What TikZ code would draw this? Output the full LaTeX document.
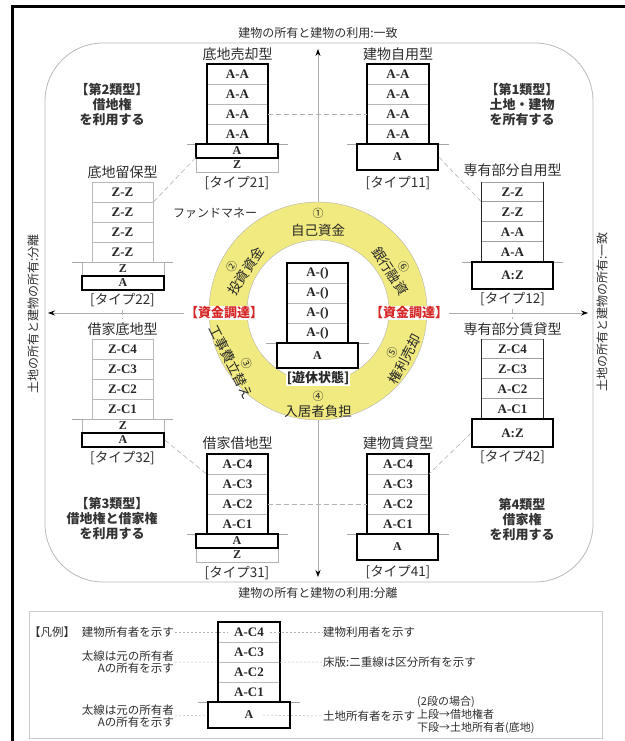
\documentclass[tikz,border=0pt]{standalone}
\usepackage{fontspec}
\setmainfont{Noto Sans CJK JP}
\newfontfamily\lat{Liberation Serif}
\usetikzlibrary{arrows.meta}
\definecolor{ringy}{RGB}{241,234,128}
\definecolor{fundred}{RGB}{214,38,38}
\definecolor{txt}{RGB}{45,45,45}
\tikzset{
  fl/.style={draw=gray!55, line width=0.5pt, minimum width=61pt, minimum height=20pt, inner sep=0pt,
    font=\lat\bfseries\fontsize{13}{13}\selectfont, text=black!85},
  fln/.style={fl, draw=none},
  own/.style={draw=black, line width=1.6pt},
  sideln/.style={draw=black!85, line width=1.4pt},
  dbl/.style={draw=gray!75, double=white, double distance=1.2pt, line width=0.6pt},
  bsA/.style={draw=black, line width=1.6pt, minimum width=82pt, inner sep=0pt,
    font=\lat\bfseries\fontsize{12}{12}\selectfont, text=black!85},
  bsZ/.style={draw=gray!60, line width=0.6pt, minimum width=82pt, inner sep=0pt,
    font=\lat\bfseries\fontsize{12}{12}\selectfont, text=black!85},
  gl/.style={draw=gray!70, line width=0.5pt},
  lab/.style={font=\fontsize{14}{14}\selectfont, text=txt},
  typ/.style={font=\fontsize{13.5}{14}\selectfont, text=txt},
  cat/.style={font=\bfseries\fontsize{13}{15}\selectfont, text=black!80, align=center},
  axl/.style={font=\fontsize{12}{12}\selectfont, text=txt},
  ax/.style={draw=gray!65, line width=0.7pt},
  tip/.tip={Stealth[length=7pt,width=5pt,color=black]},
  dc/.style={draw=gray!60, dash pattern=on 5pt off 3pt, line width=0.6pt},
  ld/.style={draw=gray!60, dash pattern=on 2pt off 2pt, line width=0.5pt},
  fund/.style={font=\bfseries\fontsize{13}{13}\selectfont, text=fundred, fill=white, inner sep=1pt},
  rt/.style={font=\fontsize{13.5}{13.5}\selectfont, text=black!85, inner sep=0pt},
  rn/.style={font=\fontsize{11}{11}\selectfont, text=black!85, inner sep=0pt},
  lg/.style={font=\fontsize{11.5}{12}\selectfont, text=txt, inner sep=1pt},
}
\begin{document}
\begin{tikzpicture}[x=1pt,y=-1pt]
\useasboundingbox (0,0) rectangle (624,741);
% outer frame
\draw[line width=3pt] (12,760) -- (12,7) -- (640,7);
% rounded region
\draw[gray!55, line width=0.8pt, rounded corners=58pt] (45,43) rectangle (593,582);

% ring
\node[circle, minimum size=218pt, inner sep=0pt] (ring) at (318,311) {};
\fill[ringy, even odd rule] (318,311) circle (109pt) (318,311) circle (71pt);
\draw[black!30, line width=0.4pt] (318,311) circle (109pt);
\draw[black!30, line width=0.4pt] (318,311) circle (71pt);

% axes labels and coordinates
\node[axl] (ttop) at (318,33) {建物の所有と建物の利用:一致};
\node[axl] (tbot) at (318,593) {建物の所有と建物の利用:分離};
\node[axl, rotate=90] (tleft) at (33,314) {土地の所有と建物の所有:分離};
\node[axl, rotate=90] (tright) at (602,312) {土地の所有と建物の所有:一致};
\coordinate (vt) at (318,49);
\coordinate (vb) at (318,577);
\coordinate (hl) at (48,313);
\coordinate (hr) at (588,313);
\node[fund] (fl) at (224,313) {【資金調達】};
\node[fund] (fr) at (409,313) {【資金調達】};
\draw[ax, -tip] (ring.north) -- (vt);
\draw[ax, -tip] (ring.south) -- (vb);
\draw[ax, -tip] (fl.west) -- (hl);
\draw[ax, -tip] (fr.east) -- (hr);

% ring texts
\node[rn] (n1) at (318,213) {①};
\node[rt] (r1) at (318,230) {自己資金};
\node[rn, rotate=57] (n2) at (232,267) {②};
\node[rt, rotate=57] (r2) at (246,271) {投資資金};
\node[rn, rotate=-63] (n3) at (247,363) {③};
\node[rt, rotate=-63] (r3) at (231,362) {工事費立替え};
\node[rn] (n4) at (318,396) {④};
\node[rt] (r4) at (318,411) {入居者負担};
\node[rn, rotate=62] (n5) at (392,353) {⑤};
\node[rt, rotate=62] (r5) at (405,359) {権利売却};
\node[rn, rotate=-57] (n6) at (404,267) {⑥};
\node[rt, rotate=-57] (r6) at (390,271) {銀行融資};
\node[font=\fontsize{12}{12}\selectfont, text=txt] (fm) at (215,213) {ファンドマネー};

% category labels
\node[cat] (k2) at (112,105) {【第2類型】\\借地権\\を利用する};
\node[cat] (k1) at (522,105) {【第1類型】\\土地・建物\\を所有する};
\node[cat] (k3) at (112,519) {【第3類型】\\借地権と借家権\\を利用する};
\node[cat] (k4) at (522,520) {第4類型\\借家権\\を利用する};

% ---- Building 21
\node[lab] (l21) at (237.5,54) {底地売却型};
\node[fl] (a1) at (237.5,74) {A-A};
\node[fl] (a2) at (237.5,94) {A-A};
\node[fl] (a3) at (237.5,114) {A-A};
\node[fl] (a4) at (237.5,134) {A-A};
\draw[own] (a1.north west) rectangle (a4.south east);
\draw[gl] ([xshift=-20pt]a4.south west) -- ([xshift=20pt]a4.south east);
\node[bsZ, minimum height=14pt] (a6) at (237,165) {Z};
\node[bsA, minimum height=14pt] (a5) at (237,151) {A};
\node[typ] (t21) at (237,183) {[タイプ21]};

% ---- Building 11
\node[lab] (l11) at (398,54) {建物自用型};
\node[fl] (d1) at (398,74) {A-A};
\node[fl] (d2) at (398,94) {A-A};
\node[fl] (d3) at (398,114) {A-A};
\node[fl] (d4) at (398,134) {A-A};
\draw[own] (d1.north west) rectangle (d4.south east);
\draw[gl] ([xshift=-20pt]d4.south west) -- ([xshift=20pt]d4.south east);
\node[bsA, minimum width=81pt, minimum height=26pt] (d5) at (397.5,157) {A};
\node[typ] (t11) at (398,183) {[タイプ11]};

% ---- Building 22
\node[lab] (l22) at (122.5,172) {底地留保型};
\node[fl] (b1) at (122.5,192) {Z-Z};
\node[fl] (b2) at (122.5,212) {Z-Z};
\node[fl] (b3) at (122.5,232) {Z-Z};
\node[fl] (b4) at (122.5,252) {Z-Z};
\draw[gl] ([xshift=-20pt]b4.south west) -- ([xshift=20pt]b4.south east);
\node[bsZ, minimum height=14pt] (b5) at (123,269) {Z};
\node[bsA, minimum height=14pt] (b6) at (123,283) {A};
\node[typ] (t22) at (122.5,300) {[タイプ22]};

% ---- Building 12
\node[lab] (l12) at (512.5,170) {専有部分自用型};
\node[fln] (c1) at (512.5,192) {Z-Z};
\node[fln] (c2) at (512.5,212) {Z-Z};
\node[fln] (c3) at (512.5,232) {A-A};
\node[fln] (c4) at (512.5,252) {A-A};
\draw[dbl] (c1.north west) -- (c1.north east);
\draw[dbl] (c1.south west) -- (c1.south east);
\draw[dbl] (c2.south west) -- (c2.south east);
\draw[dbl] (c3.south west) -- (c3.south east);
\draw[sideln] (c1.north west) -- (c4.south west);
\draw[sideln] (c1.north east) -- (c4.south east);
\draw[gl] ([xshift=-20pt]c4.south west) -- ([xshift=20pt]c4.south east);
\node[bsA, minimum width=81pt, minimum height=27pt, font=\lat\bfseries\fontsize{13}{13}\selectfont] (c5) at (512.5,275.5) {A:Z};
\node[typ] (t12) at (512.5,299) {[タイプ12]};

% ---- Building 32
\node[lab] (l32) at (122.5,329) {借家底地型};
\node[fl] (e1) at (122.5,349) {Z-C4};
\node[fl] (e2) at (122.5,369) {Z-C3};
\node[fl] (e3) at (122.5,389) {Z-C2};
\node[fl] (e4) at (122.5,409) {Z-C1};
\draw[gl] ([xshift=-20pt]e4.south west) -- ([xshift=20pt]e4.south east);
\node[bsZ, minimum height=14pt] (e5) at (123,426) {Z};
\node[bsA, minimum height=14pt] (e6) at (123,440) {A};
\node[typ] (t32) at (122.5,458) {[タイプ32]};

% ---- Building 42
\node[lab] (l42) at (512.5,329) {専有部分賃貸型};
\node[fln] (f1) at (512.5,349) {Z-C4};
\node[fln] (f2) at (512.5,369) {Z-C3};
\node[fln] (f3) at (512.5,389) {A-C2};
\node[fln] (f4) at (512.5,409) {A-C1};
\draw[dbl] (f1.north west) -- (f1.north east);
\draw[dbl] (f1.south west) -- (f1.south east);
\draw[dbl] (f2.south west) -- (f2.south east);
\draw[dbl] (f3.south west) -- (f3.south east);
\draw[sideln] (f1.north west) -- (f4.south west);
\draw[sideln] (f1.north east) -- (f4.south east);
\node[bsA, minimum width=81pt, minimum height=28pt, font=\lat\bfseries\fontsize{13}{13}\selectfont] (f5) at (512.5,433) {A:Z};
\node[typ] (t42) at (512.5,457) {[タイプ42]};

% ---- Building 31
\node[lab] (l31) at (237.5,443) {借家借地型};
\node[fl] (g1) at (237.5,464) {A-C4};
\node[fl] (g2) at (237.5,484) {A-C3};
\node[fl] (g3) at (237.5,504) {A-C2};
\node[fl] (g4) at (237.5,524) {A-C1};
\draw[own] (g1.north west) rectangle (g4.south east);
\draw[gl] ([xshift=-20pt]g4.south west) -- ([xshift=20pt]g4.south east);
\node[bsZ, minimum height=14pt] (g6) at (237,555) {Z};
\node[bsA, minimum height=14pt] (g5) at (237,541) {A};
\node[typ] (t31) at (237,573) {[タイプ31]};

% ---- Building 41
\node[lab] (l41) at (398,443) {建物賃貸型};
\node[fl] (h1) at (398,464) {A-C4};
\node[fl] (h2) at (398,484) {A-C3};
\node[fl] (h3) at (398,504) {A-C2};
\node[fl] (h4) at (398,524) {A-C1};
\draw[own] (h1.north west) rectangle (h4.south east);
\draw[gl] ([xshift=-20pt]h4.south west) -- ([xshift=20pt]h4.south east);
\node[bsA, minimum width=81pt, minimum height=26pt] (h5) at (397.5,547) {A};
\node[typ] (t41) at (398,572) {[タイプ41]};

% ---- Center building
\node[fl, fill=white] (m1) at (317.5,273) {A-()};
\node[fl, fill=white] (m2) at (317.5,293) {A-()};
\node[fl, fill=white] (m3) at (317.5,313) {A-()};
\node[fl, fill=white] (m4) at (317.5,333) {A-()};
\draw[own] (m1.north west) rectangle (m4.south east);
\draw[gl] ([xshift=-21pt]m4.south west) -- ([xshift=21pt]m4.south east);
\node[bsA, fill=white, minimum width=81pt, minimum height=25pt] (m5) at (317.5,355.5) {A};
\node[font=\bfseries\fontsize{13}{13}\selectfont, text=black!85, fill=white, inner sep=1pt] (mt) at (318,378) {[遊休状態]};

% dashed connectors
\draw[dc] (a3.east) -- (d3.west);
\draw[dc] (a6.north west) -- (b1.south east);
\draw[dc] (d5.east) -- (c1.south west);
\draw[dc] (t22.south) -- (l32.north);
\draw[dc] (t12.south) -- (l42.north);
\draw[dc] (e6.east) -- (g1.south west);
\draw[dc] (f5.west) -- (h1.south east);
\draw[dc] (g3.east) -- (h3.west);

% ---- Legend
\draw[gray!40, line width=0.7pt] (29,611) rectangle (602,738);
\node[fl] (lf1) at (249,632) {A-C4};
\node[fl] (lf2) at (249,652) {A-C3};
\node[fl] (lf3) at (249,672) {A-C2};
\node[fl] (lf4) at (249,692) {A-C1};
\draw[own] (lf1.north west) rectangle (lf4.south east);
\draw[gl] ([xshift=-20pt]lf4.south west) -- ([xshift=20pt]lf4.south east);
\node[bsA, minimum height=26pt] (lb) at (249,715) {A};
\node[lg] (lg0) at (52,632) {【凡例】};
\node[lg, anchor=east] (lg1) at (175,632) {建物所有者を示す};
\node[lg, anchor=east, align=right] (lg2) at (175,662) {太線は元の所有者\\Aの所有を示す};
\node[lg, anchor=east, align=right] (lg3) at (175,716) {太線は元の所有者\\Aの所有を示す};
\node[lg, anchor=west] (rg1) at (322,632) {建物利用者を示す};
\node[lg, anchor=west] (rg2) at (322,662) {床版:二重線は区分所有を示す};
\node[lg, anchor=west] (rg3) at (322,716) {土地所有者を示す};
\node[lg, anchor=west, align=left, font=\fontsize{11}{13}\selectfont] (rg4) at (416,715) {(2段の場合)\\上段→借地権者\\下段→土地所有者(底地)};
\draw[ld] (lg1.east) -- ([xshift=10pt]lf1.west);
\draw[ld] ([xshift=-10pt]lf1.east) -- (rg1.west);
\draw[ld] (lg2.east) -- (lf2.south west);
\draw[ld] (lf2.south east) -- (rg2.west);
\draw[ld] (lg3.east) -- (lb.west);
\draw[ld] ([xshift=14pt]lb.center) -- (rg3.west);
\end{tikzpicture}
\end{document}
